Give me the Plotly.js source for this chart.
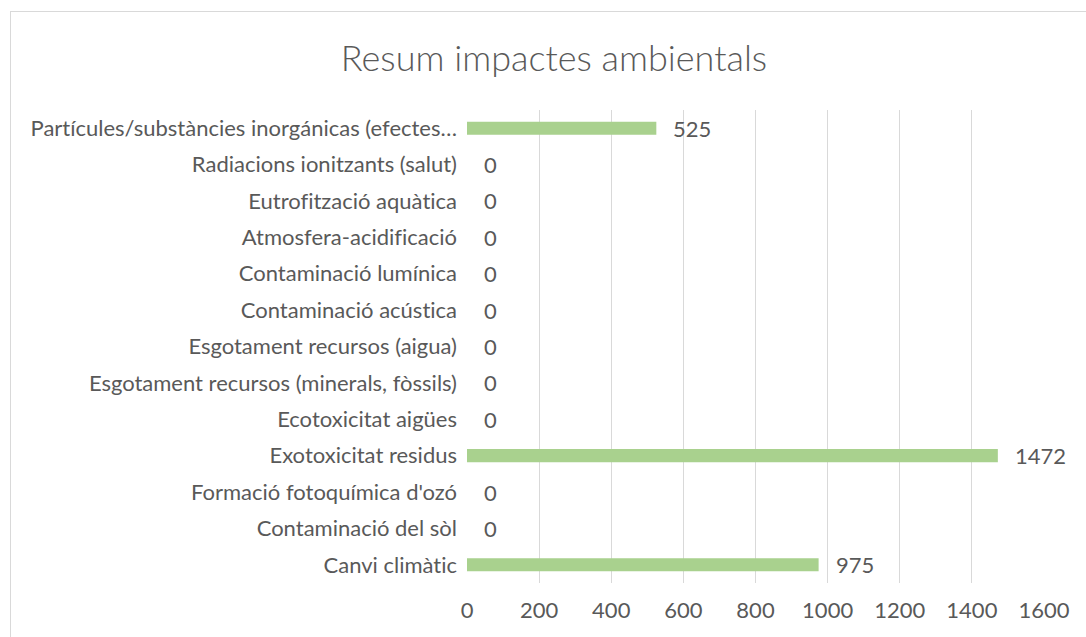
<!DOCTYPE html>
<html>
<head>
<meta charset="utf-8">
<script src="https://cdn.plot.ly/plotly-3.0.1.min.js"></script>
<style>
  html, body { margin: 0; padding: 0; background: #fff; }
  #wrap { position: relative; width: 1086px; height: 637px; overflow: hidden; }
  #chart { position: absolute; left: 0; top: 0; width: 1086px; height: 637px; }
  #chart text { font-variant-ligatures: none; font-feature-settings: "liga" 0; }
  #frame { position: absolute; left: 10px; top: 11px; width: 1200px; height: 700px;
           border-left: 1px solid #D9D9D9; border-top: 1px solid #D9D9D9; pointer-events: none; }
</style>
</head>
<body>
<div id="wrap">
  <div id="chart"></div>
  <div id="frame"></div>
</div>
<script>
const chartTitle = "Resum impactes ambientals";
const categories = [
  "Partícules/substàncies inorgánicas (efectes…",
  "Radiacions ionitzants (salut)",
  "Eutrofització aquàtica",
  "Atmosfera-acidificació",
  "Contaminació lumínica",
  "Contaminació acústica",
  "Esgotament recursos (aigua)",
  "Esgotament recursos (minerals, fòssils)",
  "Ecotoxicitat aigües",
  "Exotoxicitat residus",
  "Formació fotoquímica d'ozó",
  "Contaminació del sòl",
  "Canvi climàtic"
];
const values = [525, 0, 0, 0, 0, 0, 0, 0, 0, 1472, 0, 0, 975];
const xTicks = [0, 200, 400, 600, 800, 1000, 1200, 1400, 1600];

const FONT = "Lato, Open Sans, sans-serif";
const TXT = "#595959";

const trace = {
  type: "bar",
  orientation: "h",
  y: categories,
  x: values,
  marker: { color: "#A9D18E" },
  width: 0.36,
  hoverinfo: "x+y"
};

const annotations = categories.map((c, i) => ({
  x: values[i], y: c, xref: "x", yref: "y",
  text: String(values[i]),
  showarrow: false, xanchor: "left", yanchor: "middle",
  xshift: 15,
  font: { family: FONT, size: 22, color: TXT }
}));

const layout = {
  width: 1086, height: 637,
  margin: { l: 467, r: 42, t: 110, b: 54, pad: 0 },
  paper_bgcolor: "#fff", plot_bgcolor: "#fff",
  title: {
    text: chartTitle,
    x: 554 / 1086, xref: "container", xanchor: "center",
    y: 1 - 58 / 637, yref: "container", yanchor: "middle",
    font: { family: FONT, size: 36, color: TXT, weight: 300 }
  },
  xaxis: {
    range: [0, 1600],
    tickvals: xTicks,
    ticktext: xTicks.map(String),
    showgrid: true, gridcolor: "#D9D9D9", gridwidth: 1,
    zeroline: false, showline: false, ticks: "",
    ticklabelstandoff: 12,
    tickfont: { family: FONT, size: 22, color: TXT },
    fixedrange: true
  },
  yaxis: {
    type: "category",
    autorange: "reversed",
    showgrid: false, zeroline: false, showline: false, ticks: "",
    ticklabelstandoff: 9,
    tickfont: { family: FONT, size: 22, color: TXT },
    fixedrange: true
  },
  annotations: annotations,
  showlegend: false
};

Plotly.newPlot("chart", [trace], layout, { displayModeBar: false, staticPlot: true });
</script>
</body>
</html>
